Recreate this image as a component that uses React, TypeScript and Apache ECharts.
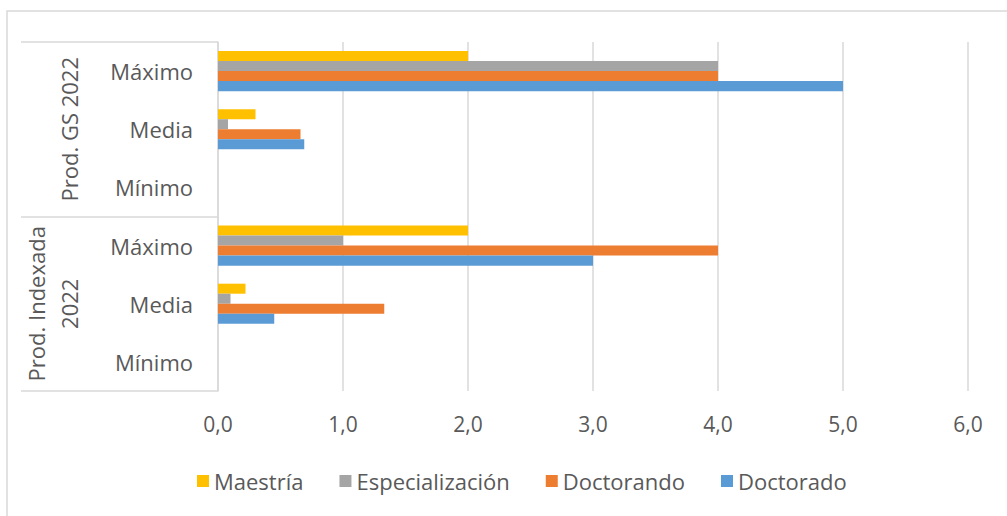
import React, { useEffect, useRef } from "react";
import * as echarts from "echarts";

const categories = ["Máximo", "Media", "Mínimo", "Máximo", "Media", "Mínimo"];
const groups = ["Prod. GS 2022", "Prod. Indexada\n2022"];
const seriesNames = ["Maestría", "Especialización", "Doctorando", "Doctorado"];
const maestria = [2, 0.3, 0, 2, 0.22, 0];
const especializacion = [4, 0.08, 0, 1, 0.1, 0];
const doctorando = [4, 0.66, 0, 4, 1.33, 0];
const doctorado = [5, 0.69, 0, 3, 0.45, 0];
const colors = ["#FFC000", "#A5A5A5", "#ED7D31", "#5B9BD5"];

const FONT = "'Open Sans', 'Noto Sans', sans-serif";
const TEXT = "#595959";
const LINE = "#d9d9d9";

export default function App() {
  const ref = useRef<HTMLDivElement>(null);
  useEffect(() => {
    if (!ref.current) return;
    const chart = echarts.init(ref.current, undefined, { renderer: "svg" });
    const values = [maestria, especializacion, doctorando, doctorado];
    chart.setOption({
      animation: false,
      textStyle: { fontFamily: FONT },
      color: colors,
      graphic: [
        {
          type: "rect",
          shape: { x: 7, y: 11, width: 1010, height: 520 },
          style: { fill: "none", stroke: LINE, lineWidth: 1.5 },
          silent: true,
        },
      ],
      legend: {
        data: seriesNames,
        left: 192,
        top: 465,
        itemWidth: 12,
        itemHeight: 12,
        itemGap: 36,
        icon: "rect",
        textStyle: { fontFamily: FONT, fontSize: 22, color: TEXT },
      },
      grid: { left: 218, right: 39, top: 42, bottom: 125, containLabel: false },
      xAxis: {
        type: "value",
        min: 0,
        max: 6,
        interval: 1,
        axisLine: { show: false },
        axisTick: { show: false },
        splitLine: { lineStyle: { color: LINE, width: 1.5 } },
        axisLabel: {
          fontFamily: FONT,
          fontSize: 21,
          color: TEXT,
          margin: 22,
          formatter: (v: number) => v.toFixed(1).replace(".", ","),
        },
      },
      yAxis: [
        {
          type: "category",
          data: categories,
          inverse: true,
          axisLine: { show: true, lineStyle: { color: LINE, width: 1.5 } },
          axisTick: { show: false },
          axisLabel: { fontFamily: FONT, fontSize: 22, color: TEXT, margin: 25, interval: 0 },
        },
        {
          type: "category",
          data: groups,
          inverse: true,
          position: "left",
          axisLine: { show: false },
          axisTick: {
            show: true,
            interval: 0,
            length: 197,
            lineStyle: { color: LINE, width: 1.5 },
          },
          axisLabel: {
            fontFamily: FONT,
            fontSize: 22,
            color: TEXT,
            rotate: 90,
            interval: 0,
            hideOverlap: false,
            margin: 133,
            lineHeight: 33,
            align: "center",
          },
        },
      ],
      series: seriesNames.map((name, i) => ({
        name,
        type: "bar",
        yAxisIndex: 0,
        data: values[i],
        barGap: "0%",
        barCategoryGap: "31%",
        itemStyle: { color: colors[i] },
      })),
    });
    return () => chart.dispose();
  }, []);
  return (
    <div
      ref={ref}
      style={{ position: "absolute", left: 0, top: 0, width: 1007, height: 516 }}
    />
  );
}
